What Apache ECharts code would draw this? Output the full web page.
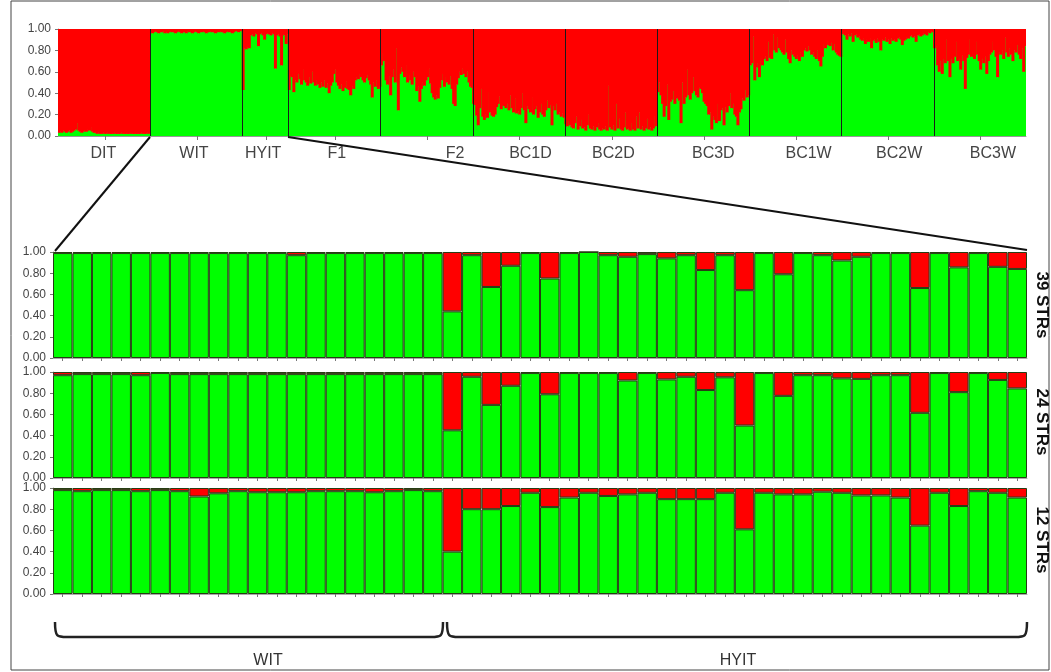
<!DOCTYPE html>
<html><head><meta charset="utf-8">
<script src="https://cdn.jsdelivr.net/npm/echarts@6/dist/echarts.min.js"></script>
<style>html,body{margin:0;padding:0;background:#fff}#c{width:1051px;height:672px}</style>
</head><body><div id="c"></div>
<script>
// ---------- DATA (green = W ancestry proportion; red = 1 - green) ----------
const groupNames = ['DIT','WIT','HYIT','F1','F2','BC1D','BC2D','BC3D','BC1W','BC2W','BC3W'];
const yTickLabels = ['0.00','0.20','0.40','0.60','0.80','1.00'];
const panelNames = ['39 STRs','24 STRs','12 STRs'];
const bottomGroupNames = ['WIT','HYIT'];

const dit = [0.03,0.04,0.03,0.05,0.04,0.03,0.04,0.05,0.03,0.04,0.05,0.06,0.12,0.05,0.04,0.03,0.04,0.05,0.04,0.06,0.05,0.08,0.04,0.03,0.03,0.02,0.03,0.02,0.02,0.03,0.02,0.02,0.03,0.02,0.02,0.02,0.03,0.02,0.02,0.02,0.02,0.03,0.02,0.02,0.02,0.02,0.02,0.03,0.02,0.02,0.02,0.02,0.02,0.02,0.03,0.02,0.02,0.02,0.03,0.02];
const wit = [0.97,0.96,0.97,0.98,0.97,0.96,0.97,0.97,0.98,0.96,0.97,0.96,0.97,0.98,0.97,0.97,0.96,0.97,0.98,0.97,0.96,0.97,0.97,0.96,0.98,0.97,0.97,0.96,0.97,0.98,0.97,0.96,0.97,0.97,0.98,0.97,0.96,0.97,0.97,0.98,0.97,0.97,0.96,0.97,0.97,0.98,0.97,0.97,0.96,0.97,0.98,0.97,0.97,0.96,0.97,0.98,0.98,0.97,0.98,0.98];
const hyitTop = [0.43,0.82,0.81,0.83,0.82,0.94,0.95,0.93,0.96,0.95,0.84,0.95,0.96,0.94,0.90,0.95,0.96,0.95,0.94,0.96,0.95,0.63,0.94,0.95,0.93,0.66,0.95,0.94,0.86,0.95];
const f1 = [0.43,0.56,0.55,0.41,0.52,0.50,0.58,0.53,0.48,0.62,0.52,0.50,0.47,0.55,0.49,0.60,0.50,0.47,0.52,0.48,0.45,0.50,0.46,0.52,0.45,0.49,0.40,0.47,0.50,0.58,0.62,0.50,0.47,0.44,0.48,0.42,0.45,0.51,0.44,0.43,0.38,0.46,0.44,0.52,0.55,0.53,0.58,0.55,0.52,0.50,0.54,0.57,0.52,0.48,0.36,0.50,0.46,0.52,0.44,0.46];
const f2 = [0.66,0.77,0.70,0.52,0.48,0.56,0.38,0.55,0.62,0.50,0.82,0.24,0.58,0.64,0.60,0.55,0.66,0.50,0.57,0.52,0.48,0.60,0.55,0.42,0.46,0.32,0.44,0.50,0.47,0.52,0.55,0.63,0.49,0.40,0.36,0.34,0.38,0.35,0.45,0.52,0.58,0.46,0.55,0.50,0.48,0.56,0.44,0.30,0.28,0.48,0.54,0.60,0.57,0.63,0.58,0.55,0.60,0.50,0.46,0.45];
const bc1d = [0.30,0.29,0.19,0.10,0.26,0.44,0.18,0.15,0.20,0.17,0.41,0.22,0.19,0.18,0.20,0.27,0.30,0.37,0.25,0.29,0.28,0.26,0.30,0.24,0.38,0.26,0.22,0.35,0.21,0.23,0.20,0.26,0.40,0.24,0.12,0.28,0.25,0.22,0.36,0.20,0.25,0.28,0.17,0.22,0.30,0.20,0.18,0.24,0.33,0.26,0.29,0.10,0.28,0.24,0.30,0.20,0.22,0.18,0.21,0.17];
const bc2d = [0.11,0.09,0.14,0.10,0.08,0.07,0.12,0.18,0.06,0.09,0.15,0.07,0.08,0.05,0.10,0.20,0.07,0.06,0.09,0.05,0.08,0.12,0.06,0.05,0.07,0.06,0.09,0.05,0.47,0.08,0.06,0.10,0.05,0.30,0.07,0.16,0.06,0.05,0.08,0.22,0.06,0.07,0.05,0.12,0.06,0.05,0.18,0.07,0.22,0.06,0.09,0.05,0.07,0.16,0.06,0.08,0.05,0.07,0.18,0.09];
const bc3d = [0.41,0.50,0.38,0.30,0.18,0.28,0.48,0.15,0.32,0.34,0.42,0.30,0.35,0.36,0.33,0.12,0.50,0.30,0.36,0.62,0.38,0.34,0.40,0.55,0.42,0.38,0.36,0.45,0.44,0.40,0.32,0.30,0.28,0.20,0.22,0.06,0.18,0.15,0.12,0.30,0.14,0.24,0.26,0.10,0.27,0.22,0.28,0.40,0.26,0.30,0.20,0.18,0.10,0.22,0.25,0.35,0.33,0.43,0.36,0.38];
const bc1w = [0.66,0.68,0.93,0.52,0.64,0.68,0.55,0.70,0.66,0.72,0.74,0.70,0.88,0.73,0.72,0.95,0.80,0.78,0.92,0.82,0.80,0.78,0.76,0.90,0.78,0.72,0.68,0.80,0.76,0.74,0.72,0.75,0.70,0.78,0.74,0.80,0.82,0.79,0.84,0.80,0.76,0.78,0.74,0.72,0.80,0.70,0.65,0.74,0.86,0.82,0.88,0.85,0.84,0.87,0.80,0.86,0.78,0.76,0.75,0.74];
const bc2w = [0.95,0.96,0.94,0.90,0.95,0.93,0.96,0.88,0.94,0.95,0.92,0.93,0.90,0.89,0.91,0.86,0.90,0.88,0.91,0.82,0.89,0.90,0.87,0.91,0.88,0.80,0.90,0.89,0.92,0.88,0.90,0.86,0.91,0.89,0.90,0.88,0.91,0.92,0.90,0.85,0.89,0.90,0.92,0.91,0.93,0.94,0.92,0.93,0.88,0.94,0.95,0.93,0.94,0.96,0.95,0.94,0.97,0.96,0.98,0.97];
const bc3w = [0.82,0.84,0.66,0.60,0.70,0.58,0.72,0.68,0.90,0.70,0.55,0.72,0.68,0.74,0.88,0.70,0.72,0.62,0.75,0.70,0.44,0.73,0.76,0.90,0.74,0.78,0.72,0.88,0.76,0.70,0.62,0.72,0.68,0.74,0.58,0.70,0.76,0.78,0.88,0.80,0.74,0.55,0.78,0.76,0.80,0.72,0.92,0.78,0.74,0.82,0.76,0.70,0.80,0.78,0.85,0.76,0.72,0.82,0.60,0.84];

const wit39 = [0.99,0.99,0.99,0.99,0.99,0.99,0.99,0.99,0.99,0.99,0.99,0.99,0.97,0.99,0.99,0.99,0.99,0.99,0.99,0.99];
const hyit39 = [0.44,0.97,0.67,0.87,0.99,0.75,0.99,1.00,0.97,0.955,0.98,0.94,0.97,0.83,0.97,0.64,0.99,0.79,0.99,0.97,0.92,0.955,0.99,0.99,0.66,0.99,0.855,0.99,0.86,0.84];
const wit24 = [0.97,0.98,0.98,0.98,0.97,0.99,0.98,0.98,0.98,0.98,0.98,0.98,0.98,0.98,0.98,0.98,0.98,0.98,0.98,0.98];
const hyit24 = [0.45,0.955,0.69,0.87,0.99,0.79,0.99,0.99,0.99,0.92,0.99,0.93,0.955,0.83,0.95,0.495,0.99,0.775,0.97,0.97,0.94,0.935,0.97,0.97,0.615,0.99,0.81,0.99,0.925,0.845];
const wit12 = [0.98,0.97,0.98,0.98,0.97,0.98,0.97,0.92,0.95,0.97,0.96,0.96,0.96,0.97,0.97,0.97,0.96,0.97,0.98,0.97];
const hyit12 = [0.40,0.80,0.80,0.83,0.955,0.82,0.91,0.955,0.925,0.94,0.955,0.895,0.895,0.895,0.955,0.61,0.955,0.94,0.94,0.965,0.955,0.93,0.93,0.91,0.645,0.955,0.83,0.97,0.955,0.91];

// ---------- BUILD ----------
const GREEN = '#00ff00', RED = '#ff0000';
const FONT = 'Liberation Sans, Arial, sans-serif';
const topGroups = [dit, wit, hyitTop, f1, f2, bc1d, bc2d, bc3d, bc1w, bc2w, bc3w];
const topGreen = [].concat(...topGroups);
const topRed = topGreen.map(v => +(1 - v).toFixed(3));
const topCats = topGreen.map((_, i) => 'i' + i);
const N = topGreen.length;
const starts = []; let acc = 0;
topGroups.forEach(g => { starts.push(acc); acc += g.length; });
const bounds = starts.slice(1);
const centers = topGroups.map((g, k) => starts[k] + Math.floor(g.length / 2));
const labelShift = [-1, -2, -2, 1, 18, 7, 1, 6, 8, 7, 8]; // layout only
const labelIdx = {};
centers.forEach((c, k) => { labelIdx[c + labelShift[k]] = groupNames[k]; });
const centerSet = new Set(centers);

const panels = [[wit39, hyit39], [wit24, hyit24], [wit12, hyit12]];
const panelTops = [252, 372, 488];

const grids = [{ left: 58, top: 29, width: 968, height: 107 }];
panelTops.forEach(t => grids.push({ left: 53, top: t, width: 974, height: 106 }));

const yAxis = grids.map((g, gi) => ({
  type: 'value', gridIndex: gi, min: 0, max: 1, interval: 0.2,
  axisLine: { show: true, lineStyle: { color: '#999', width: 1 } },
  axisTick: { show: true, length: 3, lineStyle: { color: '#777' } },
  splitLine: { show: false },
  axisLabel: { color: '#444', fontSize: 12, fontFamily: FONT, margin: 7,
    formatter: v => yTickLabels[Math.round(v * 5)] }
}));

const xAxis = [{
  type: 'category', gridIndex: 0, data: topCats,
  axisLine: { show: true, lineStyle: { color: '#999' } },
  axisTick: { show: true, alignWithLabel: true, length: 4, interval: i => centerSet.has(i), lineStyle: { color: '#777' } },
  axisLabel: { show: true, interval: i => labelIdx[i] !== undefined, formatter: (v, i) => labelIdx[i] || '',
    color: '#444', fontSize: 16, fontFamily: FONT, margin: 10 }
}];
const series = [
  { type: 'bar', xAxisIndex: 0, yAxisIndex: 0, stack: 't', data: topGreen, barWidth: 3, itemStyle: { color: GREEN }, silent: true },
  { type: 'bar', xAxisIndex: 0, yAxisIndex: 0, stack: 't', data: topRed, barWidth: 3, itemStyle: { color: RED }, silent: true }
];

panels.forEach((p, k) => {
  const g = [].concat(p[0], p[1]);
  const r = g.map(v => +(1 - v).toFixed(3));
  xAxis.push({
    type: 'category', gridIndex: k + 1, data: g.map((_, i) => String(i + 1)),
    axisLine: { show: true, lineStyle: { color: '#aaa' } },
    axisTick: { show: true, alignWithLabel: true, interval: 0, length: 3, lineStyle: { color: '#777' } },
    axisLabel: { show: false }
  });
  const bs = { borderColor: '#263d14', borderWidth: 1 };
  series.push({ type: 'bar', xAxisIndex: k + 1, yAxisIndex: k + 1, stack: 'p' + k, data: g, barCategoryGap: '0%', itemStyle: Object.assign({ color: GREEN }, bs), silent: true });
  series.push({ type: 'bar', xAxisIndex: k + 1, yAxisIndex: k + 1, stack: 'p' + k, data: r, barCategoryGap: '0%', itemStyle: Object.assign({ color: RED }, bs), silent: true });
});

// hidden value axis on top grid for group separators
xAxis.push({ type: 'value', gridIndex: 0, min: 0, max: N, show: false });
series.push({
  type: 'line', xAxisIndex: xAxis.length - 1, yAxisIndex: 0, data: [], silent: true,
  markLine: { symbol: 'none', silent: true, animation: false, label: { show: false },
    lineStyle: { color: '#1a1a1a', width: 1, type: 'solid' },
    data: bounds.map(b => ({ xAxis: b })) }
});

function brace(x1, x2, yTop, yLine) {
  const st = { stroke: '#222', lineWidth: 2.5, fill: null };
  return [
    { type: 'bezierCurve', shape: { x1: x1, y1: yTop, cpx1: x1, cpy1: yLine, cpx2: x1 + 2, cpy2: yLine, x2: x1 + 12, y2: yLine }, style: st },
    { type: 'line', shape: { x1: x1 + 12, y1: yLine, x2: x2 - 12, y2: yLine }, style: st },
    { type: 'bezierCurve', shape: { x1: x2 - 12, y1: yLine, cpx1: x2 - 2, cpy1: yLine, cpx2: x2, cpy2: yLine, x2: x2, y2: yTop }, style: st }
  ];
}

const graphic = [
  { type: 'rect', shape: { x: 11, y: 1, width: 1038, height: 669 }, style: { fill: null, stroke: '#444', lineWidth: 1 }, z: -1 },
  { type: 'line', shape: { x1: 150, y1: 137, x2: 55, y2: 251 }, style: { stroke: '#111', lineWidth: 2 }, z: 10 },
  { type: 'line', shape: { x1: 288, y1: 137, x2: 1027, y2: 250 }, style: { stroke: '#111', lineWidth: 2 }, z: 10 },
  ...brace(55, 443, 622, 637),
  ...brace(447, 1027, 622, 637),
  { type: 'text', x: 268, y: 661, style: { text: bottomGroupNames[0], fontSize: 16, fontFamily: FONT, fill: '#333', align: 'center', verticalAlign: 'middle' } },
  { type: 'text', x: 738, y: 661, style: { text: bottomGroupNames[1], fontSize: 16, fontFamily: FONT, fill: '#333', align: 'center', verticalAlign: 'middle' } }
];
const labelY = [305, 422, 540];
panelNames.forEach((n, k) => graphic.push({
  type: 'text', x: 1042, y: labelY[k], rotation: -Math.PI / 2,
  style: { text: n, fontSize: 17, fontWeight: 'bold', fontFamily: FONT, fill: '#111', align: 'center', verticalAlign: 'middle' }
}));

const chart = echarts.init(document.getElementById('c'), null, { renderer: 'canvas' });
chart.setOption({ animation: false, backgroundColor: '#fff', grid: grids, xAxis, yAxis, series, graphic });
</script></body></html>
